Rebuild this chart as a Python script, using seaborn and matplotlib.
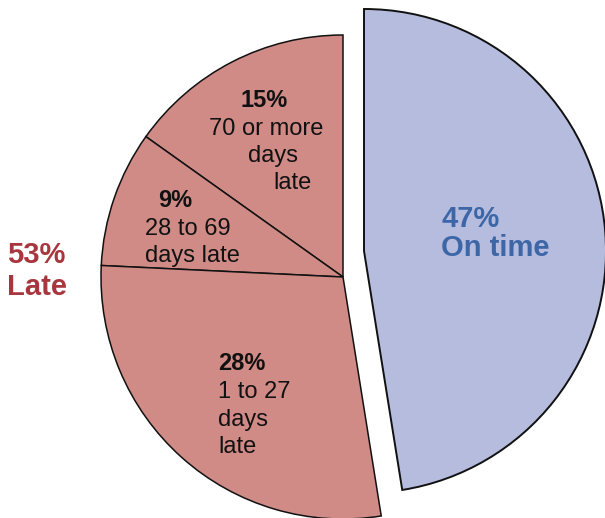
import matplotlib
matplotlib.use("Agg")
import matplotlib.pyplot as plt
import seaborn as sns

sns.set_theme(style="white")
plt.rcParams["font.family"] = ["Liberation Sans", "DejaVu Sans"]

# Shares of shipments by lateness (percent), counter-clockwise from 12 o'clock
categories = ["70 or more days late", "28 to 69 days late", "1 to 27 days late", "On time"]
shares = [15, 9, 28, 47]
late_total = 53

late_color = "#D08B87"
ontime_color = "#B5BCDE"
ontime_text = "#3D66A7"
late_text = "#A8363E"

W, H = 605, 518
fig = plt.figure(figsize=(W / 100, H / 100), dpi=100)
ax = fig.add_axes([0, 0, 1, 1])

# pie centre in figure pixels and radius in pixels
cx, cy, R = 343, 277, 242


def px(x, y):
    """Figure-pixel position (from top-left) to data coordinates."""
    return (x - cx) / R, (cy - y) / R


ax.set_xlim(px(0, 0)[0], px(W, 0)[0])
ax.set_ylim(px(0, H)[1], px(0, 0)[1])

wedges, _ = ax.pie(
    shares,
    colors=[late_color, late_color, late_color, ontime_color],
    startangle=90,
    counterclock=True,
    radius=1.0,
    wedgeprops=dict(edgecolor="#111111", linewidth=1.1),
    frame=True,
)
# pull the on-time slice away from the late slices
wedges[3].set_center((21 / R, 26 / R))
wedges[3].set_linewidth(1.4)

ax.set_xlim(px(0, 0)[0], px(W, 0)[0])
ax.set_ylim(px(0, H)[1], px(0, 0)[1])
ax.set_aspect("auto")
ax.axis("off")

small = dict(fontsize=17, color="#111111", va="baseline")

# 70 or more days late
ax.text(*px(264, 107), f"{shares[0]}%", ha="center", fontweight="bold", **small)
ax.text(*px(266, 135), "70 or more", ha="center", **small)
ax.text(*px(273, 162), "days", ha="center", **small)
ax.text(*px(292, 189), "late", ha="center", **small)

# 28 to 69 days late
ax.text(*px(158, 207), f"{shares[1]}%", ha="left", fontweight="bold", **small)
ax.text(*px(145, 235), "28 to 69", ha="left", **small)
ax.text(*px(145, 262), "days late", ha="left", **small)

# 1 to 27 days late
ax.text(*px(218, 370), f"{shares[2]}%", ha="left", fontweight="bold", **small)
ax.text(*px(218, 398), "1 to 27", ha="left", **small)
ax.text(*px(218, 426), "days", ha="left", **small)
ax.text(*px(218, 453), "late", ha="left", **small)

# On time
big = dict(fontsize=21, fontweight="bold", va="baseline", ha="left")
ax.text(*px(441, 227), f"{shares[3]}%", color=ontime_text, **big)
ax.text(*px(441, 256), "On time", color=ontime_text, **big)

# Late total
ax.text(*px(7, 263), f"{late_total}%", color=late_text, **big)
ax.text(*px(7, 295), "Late", color=late_text, **big)

fig.savefig("out.png", dpi=100, facecolor="white")
